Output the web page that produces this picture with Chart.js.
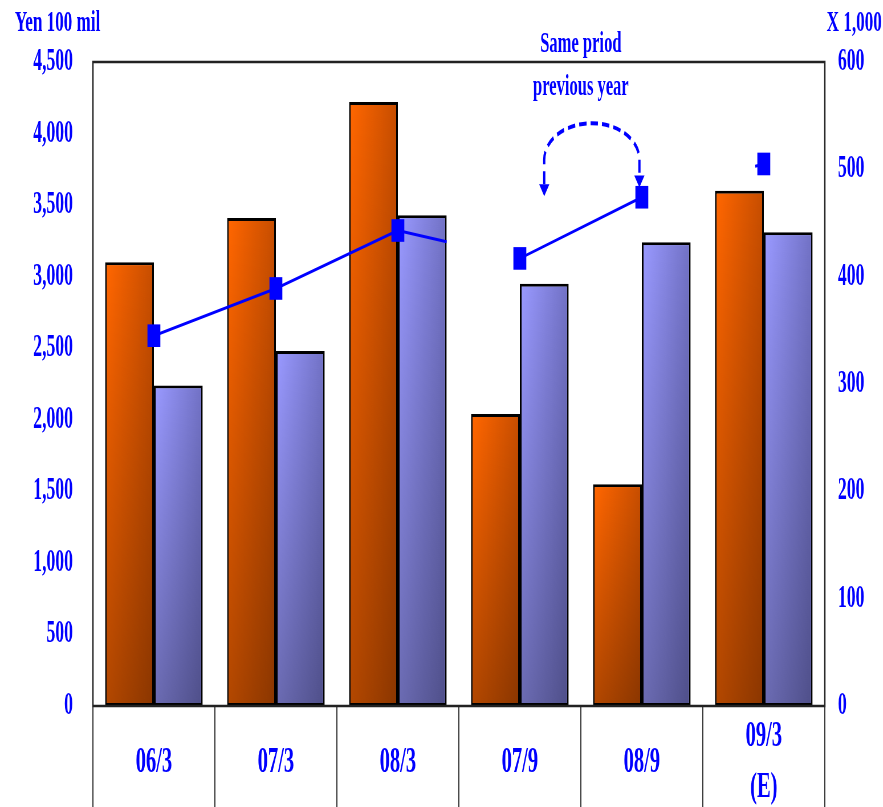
<!DOCTYPE html>
<html>
<head>
<meta charset="utf-8">
<script src="https://cdn.jsdelivr.net/npm/chart.js@4.4.1/dist/chart.umd.min.js"></script>
<style>
  html, body { margin: 0; padding: 0; background: #fff; overflow: hidden; }
  /* the chart is laid out wide and squeezed horizontally, giving the narrow lettering */
  #wrap { position: absolute; left: 0; top: 0; width: 1549px; height: 807px;
          transform: scaleX(0.57); transform-origin: 0 0; }
</style>
</head>
<body>
<div id="wrap"><canvas id="c" width="1549" height="807"></canvas></div>
<script>
// ---- data ----
const categories   = ['06/3', '07/3', '08/3', '07/9', '08/9', ['09/3', '(E)']];
const salesValues  = [3100, 3410, 4220, 2040, 1550, 3600];   // Yen 100 mil (orange)
const profitValues = [2240, 2480, 3430, 2950, 3240, 3310];   // Yen 100 mil (blue)
const unitValues   = [345, 389, 443, 417, 474, 505];         // X 1,000 (line)
const leftTicks    = [0, 500, 1000, 1500, 2000, 2500, 3000, 3500, 4000, 4500];
const rightTicks   = [0, 100, 200, 300, 400, 500, 600];
const leftTitle    = 'Yen 100 mil';
const rightTitle   = 'X 1,000';
const noteLines    = ['Same priod', 'previous year'];

// ---- styles ----
const BLUE = '#0000FF';
const FONT = "'Liberation Serif', 'Times New Roman', serif";
const BAR_SHADES = [['#FF6600', '#C84E00'], ['#9999FF', '#7272C6']];
const HIDDEN_SEGMENTS = [2, 4];   // line pieces that are only partly shown

// horizontal + vertical shading of every bar
const barShading = {
  id: 'barShading',
  afterDatasetDraw(chart, args) {
    const shade = BAR_SHADES[args.index];
    if (!shade || args.meta.type !== 'bar') return;
    const ctx = chart.ctx;
    args.meta.data.forEach(el => {
      const p = el.getProps(['x', 'y', 'base', 'width'], true);
      const bw = el.options.borderWidth;
      const l = p.x - p.width / 2 + bw, r = p.x + p.width / 2 - bw;
      const t = Math.min(p.y, p.base) + bw, b = Math.max(p.y, p.base) - bw;
      if (r <= l || b <= t) return;
      ctx.save();
      const hg = ctx.createLinearGradient(l, 0, r, 0);
      hg.addColorStop(0, shade[0]);
      hg.addColorStop(1, shade[1]);
      ctx.fillStyle = hg;
      ctx.fillRect(l, t, r - l, b - t);
      const vg = ctx.createLinearGradient(0, t, 0, b);
      vg.addColorStop(0, 'rgba(0,0,0,0)');
      vg.addColorStop(1, 'rgba(0,0,0,0.3)');
      ctx.fillStyle = vg;
      ctx.fillRect(l, t, r - l, b - t);
      ctx.restore();
    });
  }
};

// the partly drawn pieces of the unit line
const lineStubs = {
  id: 'lineStubs',
  afterDatasetDraw(chart, args) {
    if (args.meta.type !== 'line') return;
    const pts = args.meta.data;
    const ctx = chart.ctx;
    const piece = (a, b, x0, x1) => {
      const yAt = x => a.y + (b.y - a.y) * (x - a.x) / (b.x - a.x);
      ctx.save();
      ctx.strokeStyle = BLUE;
      ctx.lineWidth = 3;
      ctx.beginPath();
      ctx.moveTo(x0, yAt(x0));
      ctx.lineTo(x1, yAt(x1));
      ctx.stroke();
      ctx.restore();
    };
    const blueBar = chart.getDatasetMeta(1).data[2];
    piece(pts[2], pts[3], pts[2].x, blueBar.x + blueBar.width / 2);
    piece(pts[4], pts[5], chart.scales.x.getPixelForValue(4.93), pts[5].x);
  }
};

// plot frame, axis titles and the "same period" note with its arrow
const decorations = {
  id: 'decorations',
  afterDatasetsDraw(chart) {
    const { ctx, chartArea: a } = chart;
    ctx.save();
    ctx.strokeStyle = '#222';
    ctx.lineWidth = 2.5;
    ctx.strokeRect(a.left, a.top, a.right - a.left, a.bottom - a.top);
    ctx.restore();
  },
  afterDraw(chart) {
    const { ctx, scales } = chart;
    const xs = scales.x, yr = scales.y1;
    ctx.save();
    ctx.fillStyle = BLUE;
    ctx.font = 'bold 30px ' + FONT;
    ctx.textBaseline = 'alphabetic';
    ctx.textAlign = 'left';
    ctx.fillText(leftTitle, 26, 31);
    ctx.textAlign = 'right';
    ctx.fillText(rightTitle, chart.width - 2, 31);

    // note text
    ctx.font = 'bold 29px ' + FONT;
    ctx.textAlign = 'center';
    const nx = xs.getPixelForValue(3.5);
    ctx.fillText(noteLines[0], nx, yr.getPixelForValue(609));
    ctx.fillText(noteLines[1], nx, yr.getPixelForValue(569));

    // dashed arc arrow
    const cw = xs.getPixelForValue(1) - xs.getPixelForValue(0);
    const cx = xs.getPixelForValue(3.59);
    const rx = 0.39 * cw;
    const cy = yr.getPixelForValue(509);
    const ry = cy - yr.getPixelForValue(543);
    const leftTip = yr.getPixelForValue(475);
    const rightTip = yr.getPixelForValue(483);
    const head = 12;
    ctx.strokeStyle = BLUE;
    ctx.lineWidth = 4;
    ctx.setLineDash([13, 7]);
    ctx.beginPath();
    ctx.moveTo(cx - rx, leftTip - head);
    ctx.lineTo(cx - rx, cy);
    ctx.ellipse(cx, cy, rx, ry, 0, Math.PI, 2 * Math.PI);
    ctx.lineTo(cx + rx, rightTip - head);
    ctx.stroke();
    ctx.setLineDash([]);
    const arrowHead = (x, tip) => {
      ctx.beginPath();
      ctx.moveTo(x - 9, tip - head);
      ctx.lineTo(x + 9, tip - head);
      ctx.lineTo(x, tip);
      ctx.closePath();
      ctx.fill();
    };
    arrowHead(cx - rx, leftTip);
    arrowHead(cx + rx, rightTip);
    ctx.restore();
  }
};

const tickFont = { family: FONT, size: 31, weight: 'bold' };

new Chart(document.getElementById('c'), {
  type: 'bar',
  data: {
    labels: categories,
    datasets: [
      {
        type: 'bar', label: 'Sales', data: salesValues, yAxisID: 'y', order: 2,
        backgroundColor: '#E85C00', borderColor: '#000', borderWidth: 3, borderSkipped: false,
        barPercentage: 1, categoryPercentage: 0.8
      },
      {
        type: 'bar', label: 'Profit', data: profitValues, yAxisID: 'y', order: 2,
        backgroundColor: '#8585E0', borderColor: '#000', borderWidth: 3, borderSkipped: false,
        barPercentage: 1, categoryPercentage: 0.8
      },
      {
        type: 'line', label: 'Units', data: unitValues, yAxisID: 'y1', order: 1,
        borderColor: BLUE, borderWidth: 3, fill: false, tension: 0,
        pointStyle: 'rect', pointRadius: 16, pointBorderWidth: 0,
        pointBackgroundColor: BLUE, pointBorderColor: BLUE,
        segment: {
          borderColor: c => HIDDEN_SEGMENTS.includes(c.p0DataIndex) ? 'rgba(0,0,0,0)' : BLUE
        }
      }
    ]
  },
  options: {
    responsive: false,
    animation: false,
    layout: { padding: { top: 62, left: 0, right: 0, bottom: 0 } },
    plugins: { legend: { display: false }, tooltip: { enabled: false } },
    scales: {
      x: {
        offset: true,
        grid: { offset: true, drawOnChartArea: false, drawTicks: true, tickLength: 101,
                color: '#333', tickColor: '#333', lineWidth: 2, tickWidth: 2 },
        border: { display: false },
        ticks: { color: BLUE, font: { family: FONT, size: 36, weight: 'bold', lineHeight: 1.42 },
                 padding: -70, crossAlign: 'center', maxRotation: 0, autoSkip: false },
        afterFit: s => { s.height = 101; }
      },
      y: {
        position: 'left', min: 0, max: 4500,
        afterBuildTicks: s => { s.ticks = leftTicks.map(v => ({ value: v })); },
        grid: { display: false, drawTicks: false },
        border: { display: false },
        ticks: { color: BLUE, font: tickFont, padding: 35,
                 callback: v => v.toLocaleString('en-US') },
        afterFit: s => { s.width = 163; }
      },
      y1: {
        position: 'right', min: 0, max: 600,
        afterBuildTicks: s => { s.ticks = rightTicks.map(v => ({ value: v })); },
        grid: { display: false, drawTicks: false },
        border: { display: false },
        ticks: { color: BLUE, font: tickFont, padding: 23 },
        afterFit: s => { s.width = 102; }
      }
    }
  },
  plugins: [barShading, lineStubs, decorations]
});
</script>
</body>
</html>
